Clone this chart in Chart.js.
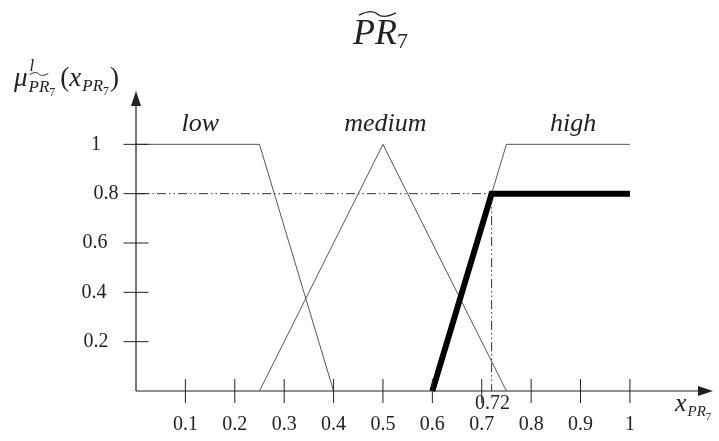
<!DOCTYPE html>
<html>
<head>
<meta charset="utf-8">
<script src="https://cdn.jsdelivr.net/npm/chart.js@4"></script>
<style>
  html, body { margin: 0; padding: 0; background: #fff; }
</style>
</head>
<body>
<canvas id="chart" width="719" height="441"></canvas>
<script>
// membership functions of PR7
const lowX = [0, 0.25, 0.4];
const lowY = [1, 1, 0];
const mediumX = [0.25, 0.5, 0.75];
const mediumY = [0, 1, 0];
const highX = [0.6, 0.75, 1];
const highY = [0, 1, 1];
// clipped (activated) high set
const activeX = [0.6, 0.72, 1];
const activeY = [0, 0.8, 0.8];
// cut lines at x = 0.72, mu = 0.8
const cutX = [0, 0.72, 0.72];
const cutY = [0.8, 0.8, 0];

const xTicks = [0.1, 0.2, 0.3, 0.4, 0.5, 0.6, 0.7, 0.8, 0.9, 1];
const xTickLabels = ['0.1', '0.2', '0.3', '0.4', '0.5', '0.6', '0.7', '0.8', '0.9', '1'];
const yTicks = [0.2, 0.4, 0.6, 0.8, 1];
const yTickLabels = ['0.2', '0.4', '0.6', '0.8', '1'];
const setNames = ['low', 'medium', 'high'];
const markValue = 0.72;
const markLabel = '0.72';

function pts(xs, ys) {
    return xs.map((x, i) => ({ x: x, y: ys[i] }));
}

const SERIF = '"Liberation Serif", "DejaVu Serif", serif';

// draws a row of text pieces: [text, fontSize, italic, dy]
function richText(ctx, x, y, parts) {
    let cx = x;
    parts.forEach(p => {
        ctx.font = (p[2] ? 'italic ' : '') + p[1] + 'px ' + SERIF;
        ctx.fillText(p[0], cx, y + (p[3] || 0));
        cx += ctx.measureText(p[0]).width;
    });
    return cx;
}

function tilde(ctx, x1, x2, y, amp) {
    const w = x2 - x1;
    ctx.beginPath();
    ctx.moveTo(x1, y + amp * 0.3);
    ctx.bezierCurveTo(x1 + w * 0.25, y - amp, x1 + w * 0.4, y - amp, x1 + w * 0.5, y);
    ctx.bezierCurveTo(x1 + w * 0.6, y + amp, x1 + w * 0.75, y + amp, x2, y - amp * 0.3);
    ctx.stroke();
}

const axesPlugin = {
    id: 'axesPlugin',
    afterDraw(chart) {
        const ctx = chart.ctx;
        const xs = chart.scales.x, ys = chart.scales.y;
        const x0 = xs.getPixelForValue(0), y0 = ys.getPixelForValue(0);
        ctx.save();
        ctx.strokeStyle = '#222';
        ctx.fillStyle = '#222';
        ctx.lineWidth = 1.2;

        // axes
        ctx.beginPath();
        ctx.moveTo(x0, y0);
        ctx.lineTo(x0, 100);
        ctx.moveTo(x0, y0);
        ctx.lineTo(704, y0);
        ctx.stroke();
        // arrow heads
        ctx.beginPath();
        ctx.moveTo(x0, 91);
        ctx.lineTo(x0 - 5, 106);
        ctx.lineTo(x0 + 5, 106);
        ctx.closePath();
        ctx.fill();
        ctx.beginPath();
        ctx.moveTo(713, y0);
        ctx.lineTo(698, y0 - 5);
        ctx.lineTo(698, y0 + 5);
        ctx.closePath();
        ctx.fill();

        // ticks
        ctx.lineWidth = 1;
        ctx.beginPath();
        xTicks.forEach(v => {
            const px = xs.getPixelForValue(v);
            ctx.moveTo(px, y0 - 12);
            ctx.lineTo(px, y0 + 12);
        });
        yTicks.forEach(v => {
            const py = ys.getPixelForValue(v);
            ctx.moveTo(x0 - 12.5, py);
            ctx.lineTo(x0 + 12.5, py);
        });
        ctx.stroke();

        // tick labels
        ctx.font = '20px ' + SERIF;
        ctx.textBaseline = 'middle';
        ctx.textAlign = 'center';
        xTicks.forEach((v, i) => {
            ctx.fillText(xTickLabels[i], xs.getPixelForValue(v), 425);
        });
        ctx.fillText(markLabel, xs.getPixelForValue(markValue) + 1, 404);
        const yLabelCx = [96, 94, 95, 106, 96];
        yTicks.forEach((v, i) => {
            ctx.fillText(yTickLabels[i], yLabelCx[i], ys.getPixelForValue(v));
        });

        // set names
        ctx.textBaseline = 'alphabetic';
        ctx.font = 'italic 26px ' + SERIF;
        const namePos = [0.13, 0.505, 0.885];
        setNames.forEach((n, i) => {
            ctx.fillText(n, xs.getPixelForValue(namePos[i]), ys.getPixelForValue(1.055));
        });

        // title  ~PR_7
        ctx.textAlign = 'left';
        let end = richText(ctx, 353, 44, [['PR', 36, true, 0]]);
        richText(ctx, end, 44, [['7', 22, false, 4]]);
        ctx.lineWidth = 1.4;
        tilde(ctx, 359, end - 1, 14, 3.5);

        // y axis title  mu^l_{~PR7}(x_{PR7})
        ctx.lineWidth = 1;
        let e = richText(ctx, 14, 86, [['\u03bc', 27, true, 0]]);
        richText(ctx, e + 2, 86, [['l', 17, true, -15]]);
        let s = richText(ctx, e + 1, 86, [['PR', 17, true, 6]]);
        let s2 = richText(ctx, s, 86, [['7', 12, false, 10]]);
        tilde(ctx, e + 2, s - 1, 74, 2);
        let p = richText(ctx, s2 + 5, 86, [['(', 27, false, 0], ['x', 27, true, 0]]);
        let q = richText(ctx, p + 1, 86, [['PR', 17, true, 5]]);
        q = richText(ctx, q, 86, [['7', 12, false, 9]]);
        richText(ctx, q + 1, 86, [[')', 27, false, 0]]);

        // x axis title  x_{PR7}
        let xa = richText(ctx, 675, 411, [['x', 26, true, 0]]);
        xa = richText(ctx, xa + 1, 411, [['PR', 15, true, 5]]);
        richText(ctx, xa, 411, [['7', 11, false, 9]]);

        ctx.restore();
    }
};

const thin = { borderColor: '#555', borderWidth: 1, pointRadius: 0, showLine: true, fill: false, tension: 0 };

new Chart(document.getElementById('chart'), {
    type: 'scatter',
    data: {
        datasets: [
            Object.assign({ label: 'active', data: pts(activeX, activeY) }, thin, { borderColor: '#000', borderWidth: 6, borderCapStyle: 'butt' }),
            Object.assign({ label: 'cut', data: pts(cutX, cutY) }, thin, { borderColor: '#333', borderDash: [9, 3, 1.5, 3, 1.5, 3] }),
            Object.assign({ label: 'low', data: pts(lowX, lowY) }, thin),
            Object.assign({ label: 'medium', data: pts(mediumX, mediumY) }, thin),
            Object.assign({ label: 'high', data: pts(highX, highY) }, thin)
        ]
    },
    options: {
        responsive: false,
        animation: false,
        maintainAspectRatio: false,
        layout: { padding: { left: 136, right: 15, top: 95, bottom: 50 } },
        plugins: { legend: { display: false }, tooltip: { enabled: false } },
        scales: {
            x: { type: 'linear', min: 0, max: 1.15, display: false },
            y: { type: 'linear', min: 0, max: 1.2, display: false }
        },
        clip: false
    },
    plugins: [axesPlugin]
});
</script>
</body>
</html>
